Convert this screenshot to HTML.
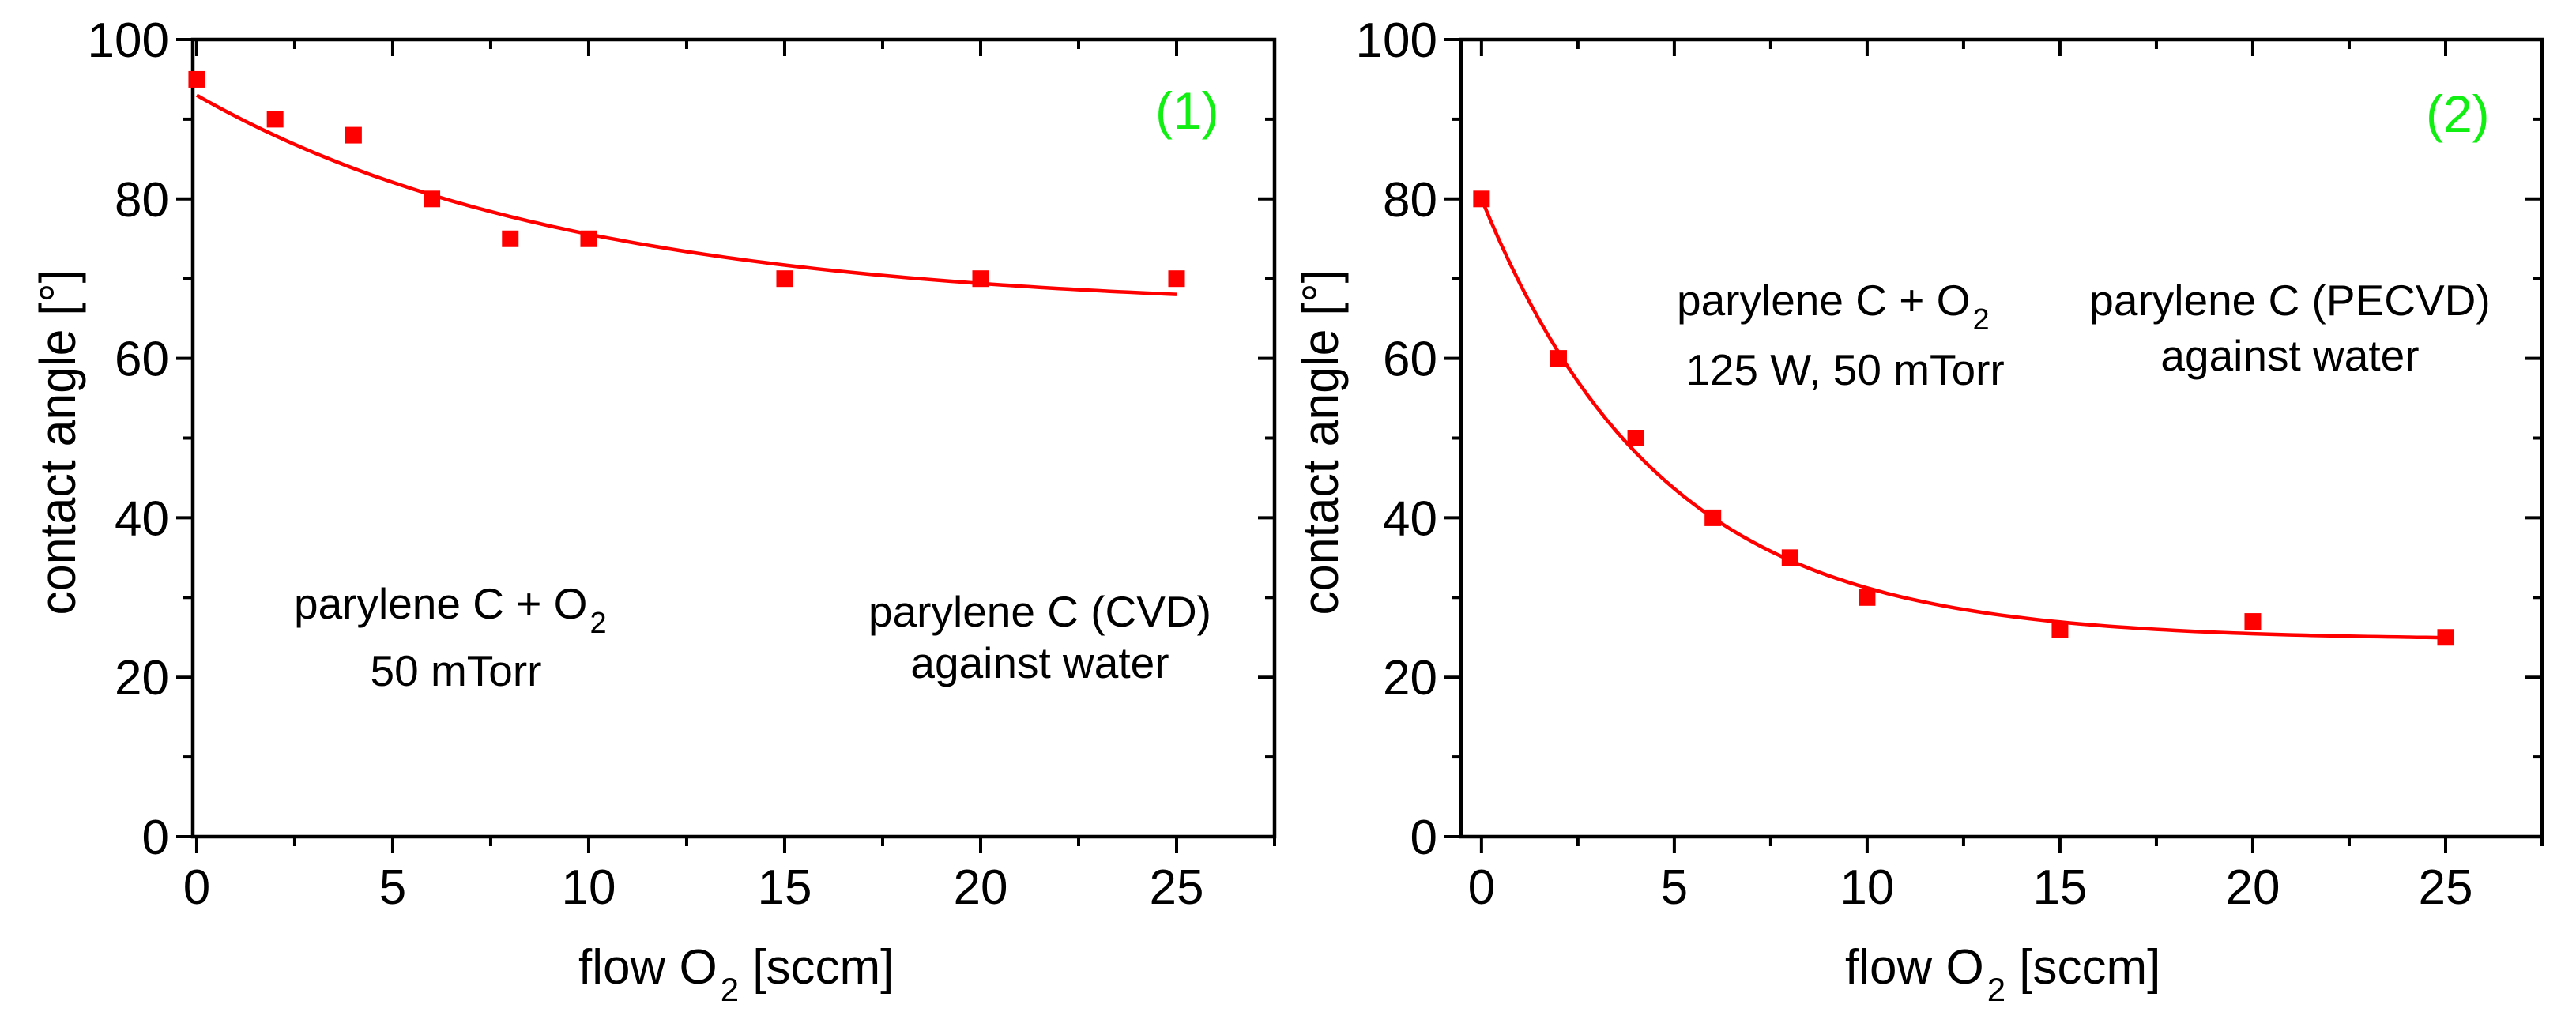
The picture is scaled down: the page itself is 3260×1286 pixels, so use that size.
<!DOCTYPE html>
<html><head><meta charset="utf-8"><style>html,body{margin:0;padding:0;background:#fff}svg{display:block}text{font-family:"Liberation Sans",sans-serif;fill:#000}</style></head>
<body>
<svg id="chart" width="3260" height="1286" viewBox="0 0 3260 1286" xmlns="http://www.w3.org/2000/svg">
<g id="p1"></g>
<g id="p2"></g>
</svg>
<script>
const flow1 = [0, 2, 4, 6, 8, 10, 15, 20, 25];
const angle1 = [95, 90, 88, 80, 75, 75, 70, 70, 70];
const fit1 = [66, 27, 9.65];
const flow2 = [0, 2, 4, 6, 8, 10, 15, 20, 25];
const angle2 = [80, 60, 50, 40, 35, 30, 26, 27, 25];
const fit2 = [24.7, 55.3, 4.67];
const xTicks = [0, 5, 10, 15, 20, 25];
const yTicks = [0, 20, 40, 60, 80, 100];

const NS = 'http://www.w3.org/2000/svg';
function mk(parent, tag, attrs, text) {
  const e = document.createElementNS(NS, tag);
  for (const k in attrs) e.setAttribute(k, attrs[k]);
  if (text !== undefined) e.textContent = text;
  parent.appendChild(e);
  return e;
}
function panel(g, cfg) {
  const X = v => cfg.left + (v - cfg.xmin) / (cfg.xmax - cfg.xmin) * (cfg.right - cfg.left);
  const Y = v => cfg.bottom - v / 100 * (cfg.bottom - cfg.top);
  for (let v = 0; v <= 27.5; v += 2.5) {
    const major = v % 5 === 0;
    const L = major ? 21 : 12;
    const t1 = mk(g, 'line', {x1: X(v), x2: X(v), y1: cfg.bottom, y2: cfg.bottom + L, stroke: '#000', 'stroke-width': 4});
    
    
    const t2 = mk(g, 'line', {x1: X(v), x2: X(v), y1: cfg.top, y2: cfg.top + L, stroke: '#000', 'stroke-width': 4});
    
    
  }
  for (let v = 0; v <= 100; v += 10) {
    const major = v % 20 === 0;
    const L = major ? 21 : 12;
    const t1 = mk(g, 'line', {x1: cfg.left - L, x2: cfg.left, y1: Y(v), y2: Y(v), stroke: '#000', 'stroke-width': 4});
    
    
    const t2 = mk(g, 'line', {x1: cfg.right - L, x2: cfg.right, y1: Y(v), y2: Y(v), stroke: '#000', 'stroke-width': 4});
    
    
  }
  const fr = mk(g, 'rect', {x: cfg.left, y: cfg.top, width: cfg.right - cfg.left, height: cfg.bottom - cfg.top, fill: 'none', stroke: '#000', 'stroke-width': 4.5});
  
  
  xTicks.forEach(v => {
    const t = mk(g, 'text', {x: X(v), y: 1144, 'font-size': 62, 'text-anchor': 'middle'}, String(v));
    
    
  });
  yTicks.forEach(v => {
    const t = mk(g, 'text', {x: cfg.left - 30, y: Y(v) + 22, 'font-size': 62, 'text-anchor': 'end'}, String(v));
    
    
  });
  let d = '';
  for (let i = 0; i <= 100; i++) {
    const x = 25 * i / 100;
    const y = cfg.fit[0] + cfg.fit[1] * Math.exp(-x / cfg.fit[2]);
    d += (i ? 'L' : 'M') + X(x).toFixed(1) + ',' + Y(y).toFixed(1);
  }
  const c = mk(g, 'path', {d: d, fill: 'none', stroke: '#ff0000', 'stroke-width': 4.5});
  
  
  cfg.xs.forEach((x, i) => {
    const m = mk(g, 'rect', {x: X(x) - 10.5, y: Y(cfg.ys[i]) - 10.5, width: 21, height: 21, fill: '#ff0000'});
    
    
  });
  const xt = mk(g, 'text', {x: cfg.xTitleX, y: 1245, 'font-size': 62});
  
  
  mk(xt, 'tspan', {}, 'flow O');
  mk(xt, 'tspan', {'font-size': 42, dy: 22, dx: 4}, '2');
  mk(xt, 'tspan', {dy: -22}, ' [sccm]');
  const yt = mk(g, 'text', {x: 0, y: 0, 'font-size': 64, 'text-anchor': 'middle', transform: `translate(${cfg.yTitleX},560) rotate(-90)`, textLength: 437, lengthAdjust: 'spacingAndGlyphs'}, 'contact angle [°]');
  
  
  cfg.notes.forEach(n => {
    const t = mk(g, 'text', {x: n.x, y: n.y, 'font-size': n.fs || 55, 'text-anchor': n.anchor || 'start', fill: n.fill || '#000'});
    
    
    if (n.fill) t.style.fill = n.fill;
    mk(t, 'tspan', {}, n.text);
    if (n.sub) { mk(t, 'tspan', {'font-size': 38, dy: 18, dx: 3}, n.sub); }
  });
}
panel(document.getElementById('p1'), {
  left: 244, right: 1613, top: 50, bottom: 1059, xmin: -0.1, xmax: 27.5,
  xs: flow1, ys: angle1, fit: fit1, xTitleX: 732, yTitleX: 95,
  notes: [
    {name: 'annotation-process', x: 372, y: 783, text: 'parylene C + O', sub: '2'},
    {name: 'annotation-pressure', x: 577, y: 868, text: '50 mTorr', anchor: 'middle'},
    {name: 'annotation-material', x: 1316, y: 793, text: 'parylene C (CVD)', anchor: 'middle'},
    {name: 'annotation-liquid', x: 1316, y: 858, text: 'against water', anchor: 'middle'},
    {name: 'panel-label', x: 1462, y: 163, text: '(1)', fs: 66, fill: '#11ee11'}
  ]
});
panel(document.getElementById('p2'), {
  left: 1849, right: 3217, top: 50, bottom: 1059, xmin: -0.53, xmax: 27.5,
  xs: flow2, ys: angle2, fit: fit2, xTitleX: 2335, yTitleX: 1693,
  notes: [
    {name: 'annotation-process', x: 2122, y: 399, text: 'parylene C + O', sub: '2'},
    {name: 'annotation-conditions', x: 2335, y: 487, text: '125 W, 50 mTorr', anchor: 'middle'},
    {name: 'annotation-material', x: 2898, y: 399, text: 'parylene C (PECVD)', anchor: 'middle'},
    {name: 'annotation-liquid', x: 2898, y: 469, text: 'against water', anchor: 'middle'},
    {name: 'panel-label', x: 3070, y: 167, text: '(2)', fs: 66, fill: '#11ee11'}
  ]
});
</script>
</body></html>
